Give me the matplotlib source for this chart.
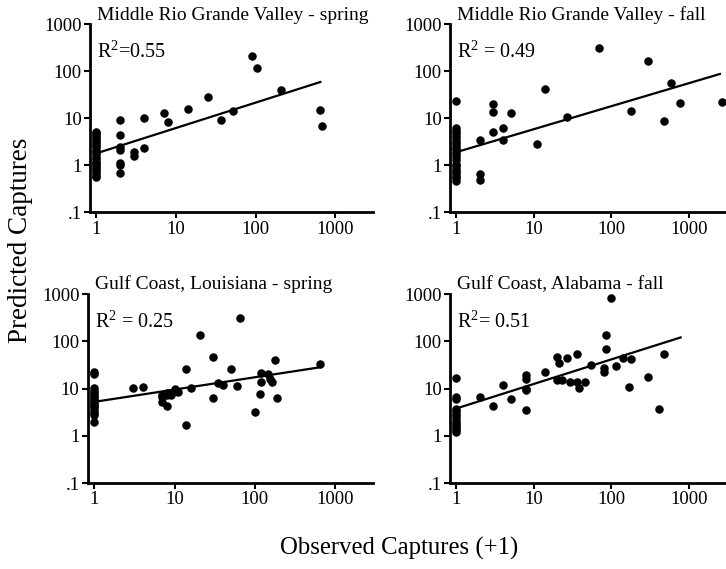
import matplotlib.pyplot as plt
import numpy as np

plt.rcParams['font.family'] = ['Liberation Serif', 'DejaVu Serif']
plt.rcParams['mathtext.fontset'] = 'custom'
plt.rcParams['mathtext.rm'] = 'Liberation Serif'

# Middle Rio Grande Valley - spring
rio_spring_x = [1] * 23 + [2, 2, 2, 2, 2, 2, 2, 3, 3, 4, 4, 7, 8, 14, 25, 37, 52, 90, 105, 210, 640, 680]
rio_spring_y = [5.2, 4.8, 4.4, 4.0, 3.6, 3.3, 3.0, 2.7, 2.4, 2.1, 1.9, 1.7, 1.5, 1.35, 1.2, 1.1, 1.0,
                0.9, 0.82, 0.74, 0.67, 0.6, 0.55,
                9, 4.5, 2.5, 2.1, 1.1, 1.0, 0.7, 1.9, 1.6, 10, 2.3, 13, 8.5, 16, 28, 9, 14, 210, 120, 40, 15, 6.8]

# Middle Rio Grande Valley - fall
rio_fall_x = [1] * 22 + [2, 2, 2, 3, 3, 3, 4, 4, 5, 11, 14, 27, 70, 180, 300, 480, 580, 760, 2700]
rio_fall_y = [23, 6.2, 5.5, 4.8, 4.2, 3.7, 3.2, 2.8, 2.5, 2.2, 1.9, 1.7, 1.5, 1.3, 1.05, 0.95, 0.85,
              0.75, 0.67, 0.6, 0.53, 0.47,
              3.5, 0.65, 0.48, 20, 13.5, 5, 6.2, 3.5, 13, 2.9, 42, 10.5, 320, 14, 165, 8.8, 58, 21, 22]

# Gulf Coast, Louisiana - spring
la_spring_x = [1] * 17 + [3, 4, 7, 7, 7, 8, 8, 8, 9, 9, 10, 11, 14, 14, 16, 21, 30, 30, 35, 40, 50, 60,
                          65, 100, 115, 120, 120, 145, 155, 165, 180, 190, 650]
la_spring_y = [22, 20, 10.5, 9, 8, 7.2, 6.5, 6, 5.5, 5, 4.6, 4.2, 3.8, 3.4, 3.1, 2.8, 2.0,
               10.5, 11, 7.5, 6.5, 5.2, 4.2, 7.5, 8, 7.5, 8, 9.8, 8.5, 26, 1.7, 10.5, 135, 46, 6.2, 13, 12,
               26, 11.5, 310, 3.2, 7.7, 21, 14, 20, 16, 13.5, 41, 6.3, 34]

# Gulf Coast, Alabama - fall
al_fall_x = [1] * 14 + [2, 3, 4, 5, 8, 8, 8, 8, 8, 14, 20, 20, 21, 23, 27, 29, 36, 36, 38, 45, 55, 80, 80,
                        85, 85, 100, 115, 140, 170, 180, 300, 410, 480]
al_fall_y = [17, 6.7, 6.0, 3.7, 3.3, 2.9, 2.6, 2.3, 2.0, 1.8, 1.6, 1.45, 1.3, 1.2,
             6.5, 4.3, 12, 6.1, 19, 16, 10, 9.5, 3.5, 23, 47, 15, 35, 15.5, 45, 13.5, 55, 13.5, 10.5, 14,
             32, 27, 23, 135, 70, 850, 30, 45, 11, 43, 17.5, 3.7, 55]

titles = ['Middle Rio Grande Valley - spring', 'Middle Rio Grande Valley - fall',
          'Gulf Coast, Louisiana - spring', 'Gulf Coast, Alabama - fall']
r2_labels = [r'$\mathrm{R}^{2}$=0.55', r'$\mathrm{R}^{2}$ = 0.49',
             r'$\mathrm{R}^{2}$ = 0.25', r'$\mathrm{R}^{2}$= 0.51']
# regression lines: log10(y) = a + b*log10(x), drawn from x=1 to x_end
fit_a = [0.255, 0.28, 0.72, 0.58]
fit_b = [0.54, 0.49, 0.26, 0.52]
fit_end = [650, 2500, 650, 780]

xs = [rio_spring_x, rio_fall_x, la_spring_x, al_fall_x]
ys = [rio_spring_y, rio_fall_y, la_spring_y, al_fall_y]

fig = plt.figure(figsize=(7.26, 5.69), dpi=100)
rects = [[0.124, 0.627, 0.390, 0.330], [0.620, 0.627, 0.380, 0.330],
         [0.121, 0.151, 0.393, 0.332], [0.620, 0.151, 0.380, 0.332]]

for i in range(4):
    ax = fig.add_axes(rects[i])
    ax.scatter(xs[i], ys[i], s=26, color='black', zorder=3, clip_on=False)
    lx = np.array([1, fit_end[i]])
    ly = 10 ** (fit_a[i] + fit_b[i] * np.log10(lx))
    ax.plot(lx, ly, color='black', linewidth=1.6)
    ax.set_xscale('log')
    ax.set_yscale('log')
    ax.set_xlim(0.83, 3000)
    ax.set_ylim(0.1, 1000)
    ax.set_xticks([1, 10, 100, 1000])
    ax.set_xticklabels(['1', '10', '100', '1000'])
    ax.set_yticks([0.1, 1, 10, 100, 1000])
    ax.set_yticklabels(['.1', '1', '10', '100', '1000'])
    ax.minorticks_off()
    ax.tick_params(labelsize=13.5, width=1.5, length=4, pad=2)
    for s in ['top', 'right']:
        ax.spines[s].set_visible(False)
    for s in ['left', 'bottom']:
        ax.spines[s].set_linewidth(2)
    ax.text(0.025, 1.025, titles[i], transform=ax.transAxes, fontsize=14, va='baseline', ha='left')
    ax.text(0.025, 0.82, r2_labels[i], transform=ax.transAxes, fontsize=14.5, va='baseline', ha='left')

fig.text(0.028, 0.578, 'Predicted Captures', rotation=90, fontsize=19.5, ha='center', va='center')
fig.text(0.55, 0.036, 'Observed Captures (+1)', fontsize=17.8, ha='center', va='center')

plt.savefig('out.png', dpi=100)
